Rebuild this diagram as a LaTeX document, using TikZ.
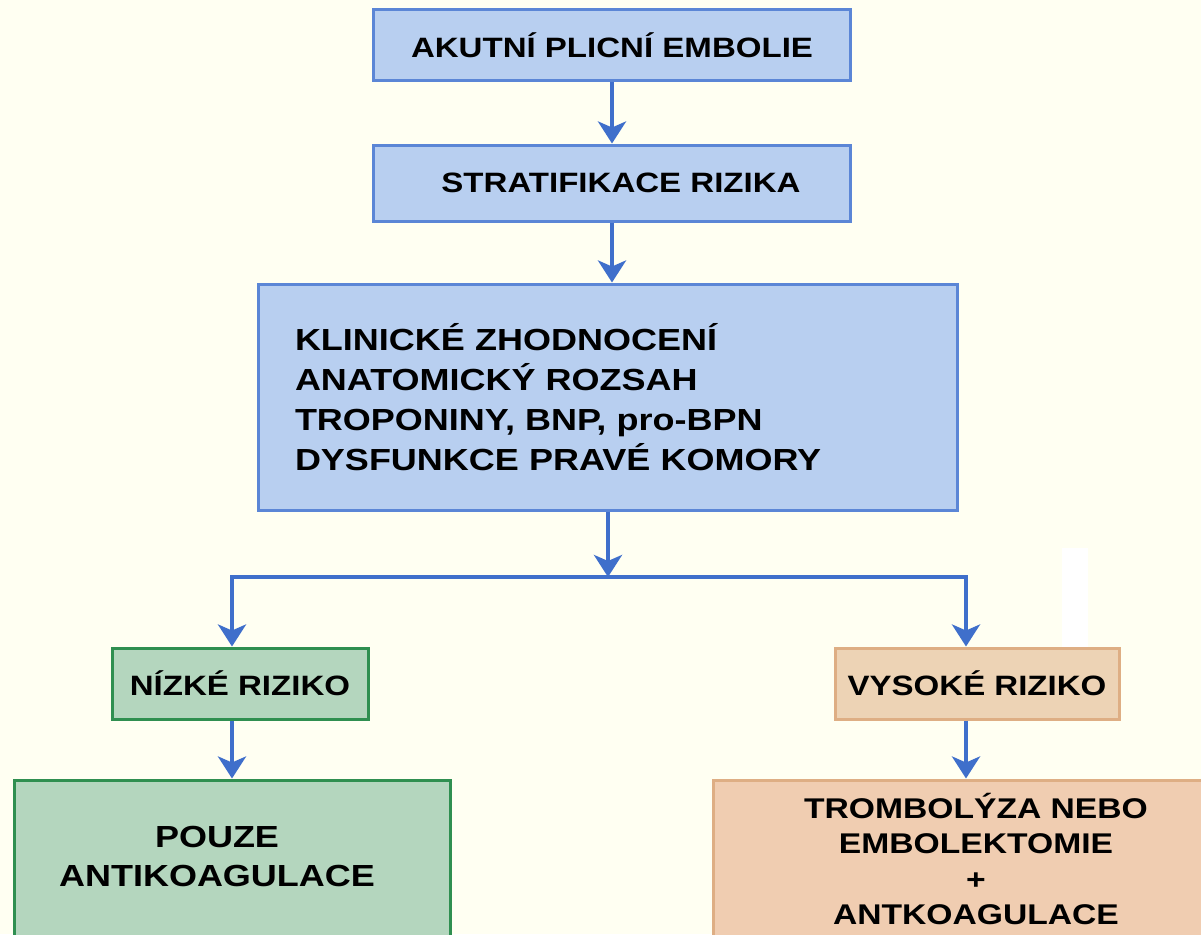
\documentclass[tikz,border=0pt]{standalone}
\usepackage{fontspec}
\newfontfamily\dfont{Liberation Sans}[FakeStretch=1.18]
\usetikzlibrary{arrows.meta}
\definecolor{bgc}{HTML}{FFFFF2}
\definecolor{bfill}{HTML}{B8CFF0}
\definecolor{bbord}{HTML}{5B86D6}
\definecolor{acol}{HTML}{3F6FCB}
\definecolor{gfill}{HTML}{B4D6BE}
\definecolor{gbord}{HTML}{2F8F50}
\definecolor{tfill}{HTML}{EDD3B5}
\definecolor{tbord}{HTML}{DEAE84}
\definecolor{tfillb}{HTML}{F0CDB1}
\tikzset{
  boxbase/.style={rectangle, line width=3pt, inner sep=0pt, align=center,
    font=\dfont\bfseries\fontsize{28}{35}\selectfont},
  bluebox/.style={boxbase, draw=bbord, fill=bfill},
  greenbox/.style={boxbase, draw=gbord, fill=gfill},
  tanbox/.style={boxbase, draw=tbord, fill=tfill},
  tanboxb/.style={boxbase, draw=tbord, fill=tfillb},
  txt/.style={inner sep=0pt, align=center, font=\dfont\bfseries\fontsize{28}{35}\selectfont},
  arr/.style={draw=acol, line width=4.5pt, line join=miter,
    -{Stealth[length=22pt,width=28pt,inset=6pt]}},
}
\begin{document}
\begin{tikzpicture}[x=1pt,y=-1pt]
\useasboundingbox (0,0) rectangle (1201,934);
\fill[bgc] (0,0) rectangle (1201,934);
\begin{scope}
\clip (0,0) rectangle (1201,934);
\fill[white] (1062,548) rectangle (1088,648);

\node[bluebox, minimum width=477pt, minimum height=70pt] (b1) at (612,45) {AKUTNÍ PLICNÍ EMBOLIE};
\node[bluebox, minimum width=477pt, minimum height=76pt] (b2) at (612,183) {\hspace{18pt}STRATIFIKACE RIZIKA};
\node[bluebox, minimum width=699pt, minimum height=226pt, text width=625pt, inner xsep=37pt, align=left,
  font=\dfont\bfseries\fontsize{30.5}{40}\selectfont] (b3) at (607.5,397)
  {KLINICKÉ ZHODNOCENÍ\\ANATOMICKÝ ROZSAH\\TROPONINY, BNP, pro-BPN\\DYSFUNKCE PRAVÉ KOMORY};

\node[greenbox, minimum width=256pt, minimum height=71pt] (low) at (240,683.5) {NÍZKÉ RIZIKO};
\node[tanbox, minimum width=284pt, minimum height=71pt] (high) at (977,683.5) {VYSOKÉ RIZIKO};

\node[greenbox, minimum width=436pt, minimum height=180pt] (bl) at (232,870) {};
\node[txt, font=\dfont\bfseries\fontsize{30.5}{39}\selectfont] (bltext) at (217,856) {POUZE\\ANTIKOAGULACE};
\node[tanboxb, minimum width=517pt, minimum height=180pt] (br) at (971.5,870) {};
\node[txt, font=\dfont\bfseries\fontsize{28.5}{35.5}\selectfont] (brtext) at (976,859) {TROMBOLÝZA NEBO\\EMBOLEKTOMIE\\+\\ANTKOAGULACE};

\coordinate (split) at (608,577);
\coordinate (jl) at (232,577);
\coordinate (jr) at (966,577);

\draw[arr] (b1) -- (b2);
\draw[arr] (b2.south) -- (b2.south |- b3.north);
\draw[arr] (b3.south -| split) -- (split);
\draw[arr] (split) -- (jl) -- (jl |- low.north);
\draw[arr] (split) -- (jr) -- (jr |- high.north);
\draw[arr] (low.south -| bl.north) -- (bl.north);
\draw[arr] (high.south -| jr) -- (jr |- br.north);
\end{scope}
\end{tikzpicture}
\end{document}
